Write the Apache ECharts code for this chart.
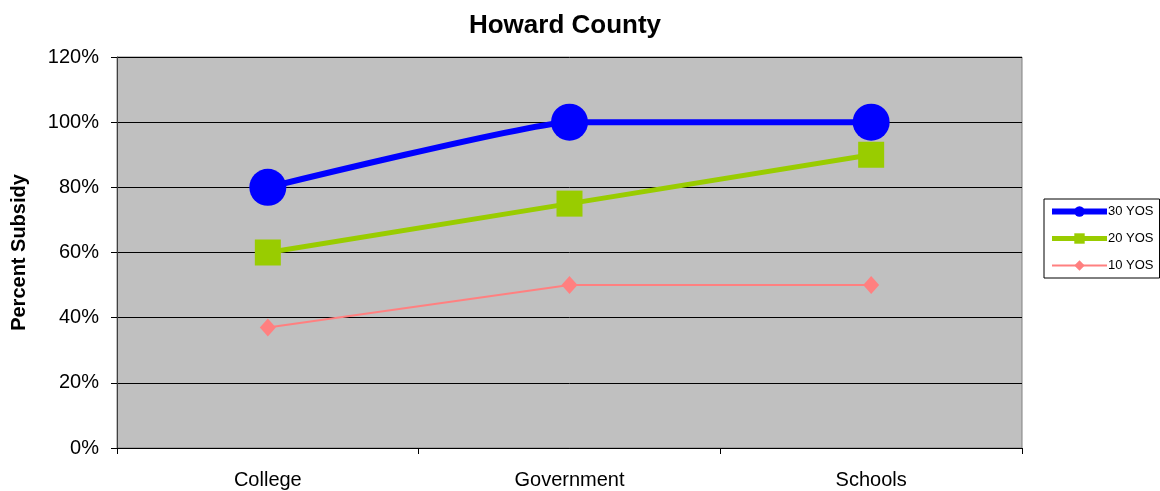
<!DOCTYPE html>
<html>
<head>
<meta charset="utf-8">
<script src="https://cdn.jsdelivr.net/npm/echarts@6/dist/echarts.min.js"></script>
<style>
  html, body { margin: 0; padding: 0; background: #fff; }
  #chart { width: 1160px; height: 491px; }
</style>
</head>
<body>
<div id="chart"></div>
<script>
// data
const categories = ['College', 'Government', 'Schools']
const yos30 = [80, 100, 100]
const yos20 = [60, 75, 90]
const yos10 = [37, 50, 50]
const yTicks = [0, 20, 40, 60, 80, 100, 120]

const font = 'Liberation Sans, Arial, sans-serif'

let myChart = echarts.init(document.getElementById('chart'))
myChart.setOption({
  animation: false,
  title: {
    text: 'Howard County',
    left: 560,
    textAlign: 'center',
    top: 8,
    textStyle: { fontFamily: font, fontSize: 26, fontWeight: 'bold', color: '#000' }
  },
  legend: {
    orient: 'vertical',
    left: 1044,
    top: 199,
    width: 114,
    padding: [6, 6, 6, 5],
    itemGap: 14,
    itemWidth: 55,
    itemHeight: 13,
    borderColor: '#000',
    borderWidth: 1,
    lineStyle: { width: 'inherit' },
    textStyle: { fontFamily: font, fontSize: 13, color: '#000', padding: [0, 0, 0, -4] },
    data: ['30 YOS', '20 YOS', '10 YOS']
  },
  grid: {
    left: 117,
    right: 138,
    top: 57,
    bottom: 43,
    show: true,
    backgroundColor: '#C0C0C0',
    borderColor: '#808080',
    borderWidth: 1
  },
  xAxis: {
    type: 'category',
    data: categories,
    boundaryGap: true,
    axisLine: { lineStyle: { color: '#000', width: 1 } },
    axisTick: { show: true, length: 6, lineStyle: { color: '#000' } },
    axisLabel: { fontFamily: font, fontSize: 20, color: '#000', margin: 22 }
  },
  yAxis: {
    type: 'value',
    min: yTicks[0],
    max: yTicks[yTicks.length - 1],
    interval: 20,
    name: 'Percent Subsidy',
    nameLocation: 'middle',
    nameGap: 88,
    nameTextStyle: { fontFamily: font, fontSize: 20, fontWeight: 'bold', color: '#000' },
    axisLine: { show: true, lineStyle: { color: '#404040', width: 1 } },
    axisTick: { show: true, length: 6, inside: false, lineStyle: { color: '#000' } },
    axisLabel: { fontFamily: font, fontSize: 20, color: '#000', margin: 18, formatter: '{value}%' },
    splitLine: { show: true, lineStyle: { color: '#000', width: 1 } }
  },
  series: [
    {
      name: '30 YOS',
      type: 'line',
      data: yos30,
      smooth: 0.12,
      symbol: 'circle',
      symbolSize: 37,
      itemStyle: { color: '#0000FF' },
      lineStyle: { color: '#0000FF', width: 6 },
      z: 4
    },
    {
      name: '20 YOS',
      type: 'line',
      data: yos20,
      symbol: 'rect',
      symbolSize: 26,
      itemStyle: { color: '#99CC00' },
      lineStyle: { color: '#99CC00', width: 5 },
      z: 3
    },
    {
      name: '10 YOS',
      type: 'line',
      data: yos10,
      symbol: 'diamond',
      symbolSize: [16, 18],
      itemStyle: { color: '#FF8080' },
      lineStyle: { color: '#FF8080', width: 2 },
      z: 2
    }
  ]
})
</script>
</body>
</html>
